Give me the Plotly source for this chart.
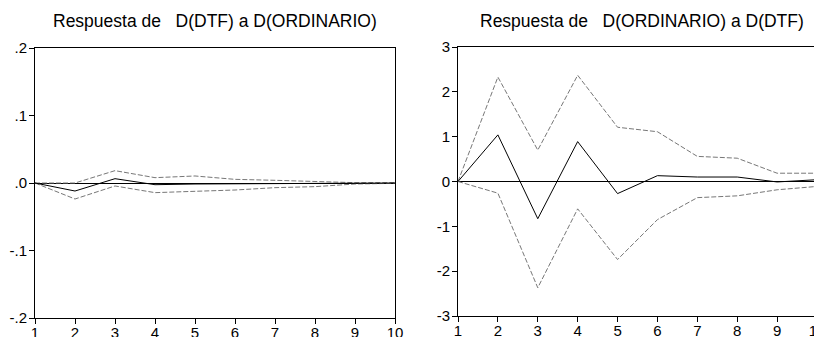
import plotly.graph_objects as go

periods = [1, 2, 3, 4, 5, 6, 7, 8, 9, 10]

# Respuesta de D(DTF) a D(ORDINARIO)
dtf_resp = [0.0, -0.0119, 0.0064, -0.0025, -0.0015, -0.001, -0.0005, 0.0, 0.0, 0.0]
dtf_upper = [0.0, 0.0, 0.0183, 0.0079, 0.0104, 0.0054, 0.004, 0.0025, 0.0005, 0.0005]
dtf_lower = [0.0, -0.0237, -0.0044, -0.0143, -0.0123, -0.0104, -0.0069, -0.0054, -0.0015, -0.0005]

# Respuesta de D(ORDINARIO) a D(DTF)
ord_resp = [0.0, 1.04, -0.83, 0.89, -0.27, 0.13, 0.10, 0.10, -0.01, 0.04]
ord_upper = [0.0, 2.33, 0.70, 2.37, 1.21, 1.11, 0.56, 0.52, 0.185, 0.185]
ord_lower = [0.0, -0.26, -2.37, -0.61, -1.74, -0.85, -0.36, -0.32, -0.185, -0.11]

left_yticks = [-0.2, -0.1, 0.0, 0.1, 0.2]
left_ytext = ["-.2", "-.1", ".0", ".1", ".2"]
right_yticks = [-3, -2, -1, 0, 1, 2, 3]
right_ytext = ["-3", "-2", "-1", "0", "1", "2", "3"]

titles = ["Respuesta de \u00a0\u00a0D(DTF) a D(ORDINARIO)",
          "Respuesta de \u00a0\u00a0D(ORDINARIO) a D(DTF)"]

W, H = 822, 337
OFF = 8  # page body margin in the browser


def fx(px):
    return (px - OFF) / W


def fy(py):
    return 1 - (py - OFF) / H


fig = go.Figure()

dash_color = "#777777"
FONT = "Liberation Sans, Arial, sans-serif"


def add_panel(xa, ya, resp, up, lo):
    fig.add_trace(go.Scatter(x=periods, y=up, mode="lines", xaxis=xa, yaxis=ya,
                             line=dict(color=dash_color, width=1, dash="5px,2px"),
                             showlegend=False, hoverinfo="skip"))
    fig.add_trace(go.Scatter(x=periods, y=lo, mode="lines", xaxis=xa, yaxis=ya,
                             line=dict(color=dash_color, width=1, dash="5px,2px"),
                             showlegend=False, hoverinfo="skip"))
    fig.add_trace(go.Scatter(x=periods, y=resp, mode="lines", xaxis=xa, yaxis=ya,
                             line=dict(color="black", width=1),
                             showlegend=False))


add_panel("x", "y", dtf_resp, dtf_upper, dtf_lower)
add_panel("x2", "y2", ord_resp, ord_upper, ord_lower)

tickfont = dict(family=FONT, size=15, color="black")

common_x = dict(range=[1, 10], tickvals=periods, ticks="outside", ticklen=5,
                tickcolor="black", showline=True, linecolor="black", linewidth=1,
                mirror=True, showgrid=False, zeroline=False, tickfont=tickfont,
                ticklabelstandoff=-4, automargin=False)
common_y = dict(ticks="outside", ticklen=5, tickcolor="black", showline=True,
                linecolor="black", linewidth=1, mirror=True, showgrid=False,
                zeroline=True, zerolinecolor="black", zerolinewidth=1,
                tickfont=tickfont, ticklabelstandoff=-1, automargin=False)

fig.update_layout(
    template="none",
    width=W, height=H,
    margin=dict(l=0, r=0, t=0, b=0, pad=0),
    paper_bgcolor="white", plot_bgcolor="white",
    xaxis=dict(domain=[fx(35), fx(395)], anchor="y", **common_x),
    yaxis=dict(domain=[fy(318), fy(48)], anchor="x", range=[-0.2, 0.2],
               tickvals=left_yticks, ticktext=left_ytext, **common_y),
    xaxis2=dict(domain=[fx(458), fx(817)], anchor="y2", **common_x),
    yaxis2=dict(domain=[fy(316), fy(47)], anchor="x2", range=[-3, 3],
                tickvals=right_yticks, ticktext=right_ytext, **common_y),
    annotations=[
        dict(text=titles[0], x=fx(215), y=fy(21), xref="paper", yref="paper",
             showarrow=False, xanchor="center", yanchor="middle",
             font=dict(family=FONT, size=17.5, color="black")),
        dict(text=titles[1], x=fx(642), y=fy(21), xref="paper", yref="paper",
             showarrow=False, xanchor="center", yanchor="middle",
             font=dict(family=FONT, size=17.5, color="black")),
    ],
)

fig.write_html("out.html")
